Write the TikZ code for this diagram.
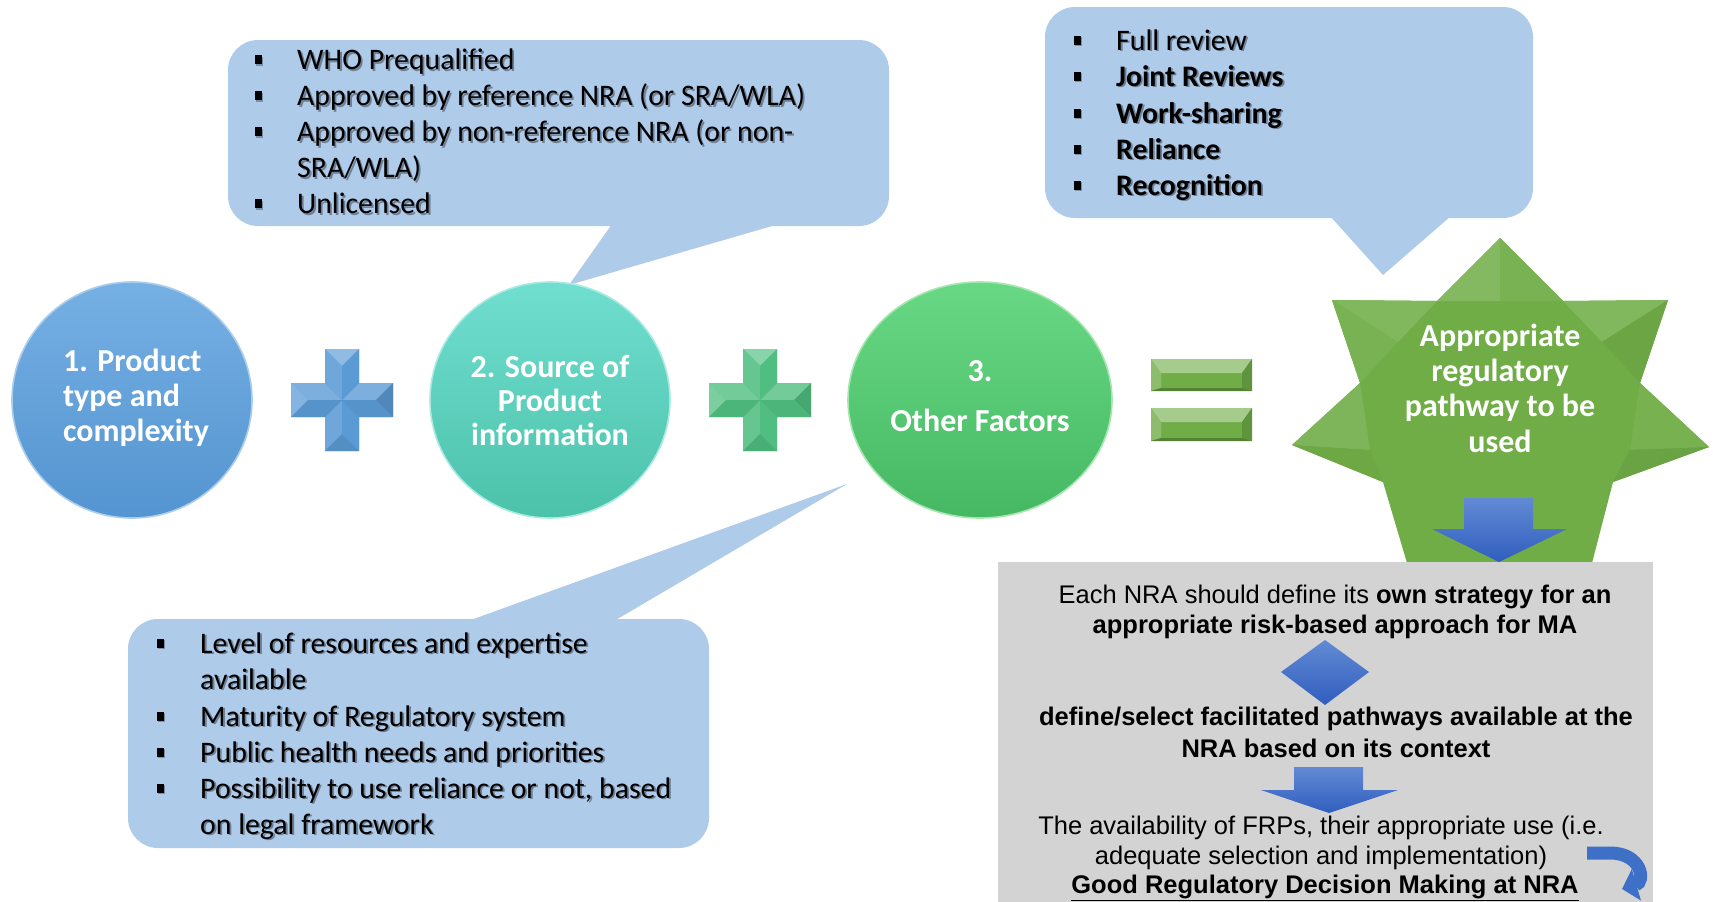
\documentclass[tikz,border=0pt]{standalone}
\usepackage{fontspec}
\setmainfont{Carlito}
\newfontfamily\arialfont{Liberation Sans}
\usetikzlibrary{shapes.geometric,shadows,arrows.meta}

\definecolor{bubblecol}{RGB}{174,203,233}
\definecolor{shadowcol}{RGB}{112,128,148}
\definecolor{cAtop}{RGB}{118,176,228}
\definecolor{cAbot}{RGB}{84,148,208}
\definecolor{cArim}{RGB}{170,205,235}
\definecolor{cBtop}{RGB}{112,222,208}
\definecolor{cBbot}{RGB}{76,194,170}
\definecolor{cBrim}{RGB}{170,235,225}
\definecolor{cCtop}{RGB}{104,216,132}
\definecolor{cCbot}{RGB}{70,184,100}
\definecolor{cCrim}{RGB}{165,230,175}
\definecolor{plusblue}{RGB}{91,155,213}
\definecolor{plusgreen}{RGB}{80,190,128}
\definecolor{stargreen}{RGB}{112,173,71}
\definecolor{graybox}{RGB}{211,211,211}
\definecolor{arrowtop}{RGB}{98,138,212}
\definecolor{arrowbot}{RGB}{48,94,190}
\definecolor{turnblue}{RGB}{62,112,200}

% text with a soft offset shadow
\newcommand\shd[1]{\leavevmode\rlap{\hspace{1.8pt}\raisebox{-1.8pt}{\textcolor{shadowcol}{#1}}}#1}

% bevelled plus sign: #1 centre, #2 base colour
\newcommand\bevelplus[2]{%
\begin{scope}[shift={#1}]
  \fill[#2] (-17,-51) -- (17,-51) -- (17,-17) -- (51,-17) -- (51,17) -- (17,17)
     -- (17,51) -- (-17,51) -- (-17,17) -- (-51,17) -- (-51,-17) -- (-17,-17) -- cycle;
  % facets facing up
  \fill[#2!68!white] (-17,-51) -- (17,-51) -- (0,-34) -- cycle;
  \fill[#2!80!white] (17,-17) -- (51,-17) -- (34,0) -- (0,0) -- cycle;
  \fill[#2!80!white] (-17,-17) -- (-51,-17) -- (-34,0) -- (0,0) -- cycle;
  % facets facing left
  \fill[#2!88!white] (-17,-51) -- (0,-34) -- (0,0) -- (-17,-17) -- cycle;
  \fill[#2!88!white] (-17,51) -- (0,34) -- (0,0) -- (-17,17) -- cycle;
  \fill[#2!75!white] (-51,-17) -- (-51,17) -- (-34,0) -- cycle;
  % facets facing right
  \fill[#2] (17,-51) -- (0,-34) -- (0,0) -- (17,-17) -- cycle;
  \fill[#2] (17,51) -- (0,34) -- (0,0) -- (17,17) -- cycle;
  \fill[#2!88!black] (51,-17) -- (51,17) -- (34,0) -- cycle;
  % facets facing down
  \fill[#2!92!black] (-17,51) -- (17,51) -- (0,34) -- cycle;
  \fill[#2!95!black] (17,17) -- (51,17) -- (34,0) -- (0,0) -- cycle;
  \fill[#2!95!black] (-17,17) -- (-51,17) -- (-34,0) -- (0,0) -- cycle;
\end{scope}}

% bevelled bar of the equals sign: corners (#1,#2) and (#3,#4)
\newcommand\bevelbar[4]{%
  \fill[stargreen] (#1,#2) rectangle (#3,#4);
  \fill[stargreen!62!white] (#1,#2) -- (#3,#2) -- (#3-10,#2+14) -- (#1+10,#2+14) -- cycle;
  \fill[stargreen!80!white] (#1,#2) -- (#1+10,#2+14) -- (#1+10,#4-3) -- (#1,#4) -- cycle;
  \fill[stargreen!85!black] (#3,#2) -- (#3-10,#2+14) -- (#3-10,#4-3) -- (#3,#4) -- cycle;
  \fill[stargreen!75!black] (#1,#4) -- (#1+10,#4-3) -- (#3-10,#4-3) -- (#3,#4) -- cycle;
}

\begin{document}
\begin{tikzpicture}[x=1pt,y=-1pt,
  bul/.style={fill=black, minimum width=7, minimum height=9, inner sep=0,
    drop shadow={shadow xshift=1.6pt, shadow yshift=-1.6pt, fill=shadowcol, opacity=0.8}},
  item/.style={anchor=base west, inner sep=0, font=\fontsize{29.8}{36}\selectfont},
  disc/.style={ellipse, inner sep=0, text=white, line width=1.6,
    font=\fontsize{32}{35}\selectfont\bfseries},
  gline/.style={anchor=base, inner sep=0, font=\arialfont\fontsize{25.5}{31}\selectfont},
  arrowfill/.style={top color=arrowtop, bottom color=arrowbot, draw=none}
]
\useasboundingbox (0,0) rectangle (1713,902);

% ---------- speech bubbles ----------
\fill[bubblecol, rounded corners=30] (228,40) rectangle (889,226);
\fill[bubblecol] (612,224) -- (569,285) -- (779,224) -- cycle;

\fill[bubblecol, rounded corners=30] (1045,7) rectangle (1533,218);
\fill[bubblecol] (1330,216) -- (1383,275) -- (1451,216) -- cycle;

\fill[bubblecol, rounded corners=30] (128,619) rectangle (709,848);
\fill[bubblecol] (468,621) -- (847,484) -- (614,621) -- cycle;

% ---------- source of product information ----------
\node[bul] (ba1) at (258,59.5) {};
\node[bul] (ba2) at (258,95.5) {};
\node[bul] (ba3) at (258,131.5) {};
\node[bul] (ba4) at (258,203.5) {};
\node[item] (ta1) at (297,69.5) {\shd{WHO Prequalified}};
\node[item] (ta2) at (297,105.5) {\shd{Approved by reference NRA (or SRA/WLA)}};
\node[item] (ta3) at (297,141.5) {\shd{Approved by non-reference NRA (or non-}};
\node[item] (ta4) at (297,177.5) {\shd{SRA/WLA)}};
\node[item] (ta5) at (297,213.5) {\shd{Unlicensed}};

% ---------- pathway options ----------
\node[bul] (bb1) at (1077,40) {};
\node[bul] (bb2) at (1077,76) {};
\node[bul] (bb3) at (1077,113) {};
\node[bul] (bb4) at (1077,149) {};
\node[bul] (bb5) at (1077,185) {};
\node[item] (tb1) at (1116,50) {\shd{Full review}};
\node[item] (tb2) at (1116,86) {\shd{\textbf{Joint Reviews}}};
\node[item] (tb3) at (1116,123) {\shd{\textbf{Work-sharing}}};
\node[item] (tb4) at (1116,159) {\shd{\textbf{Reliance}}};
\node[item] (tb5) at (1116,195) {\shd{\textbf{Recognition}}};

% ---------- other factors ----------
\node[bul] (bc1) at (160,643) {};
\node[bul] (bc2) at (160,716) {};
\node[bul] (bc3) at (160,752) {};
\node[bul] (bc4) at (160,788) {};
\node[item] (tc1) at (200,653) {\shd{Level of resources and expertise}};
\node[item] (tc2) at (200,689) {\shd{available}};
\node[item] (tc3) at (200,726) {\shd{Maturity of Regulatory system}};
\node[item] (tc4) at (200,762) {\shd{Public health needs and priorities}};
\node[item] (tc5) at (200,798) {\shd{Possibility to use reliance or not, based}};
\node[item] (tc6) at (200,834) {\shd{on legal framework}};

% ---------- the three factors ----------
\node[disc, top color=cAtop, bottom color=cAbot, draw=cArim,
      minimum width=240, minimum height=236] (f1) at (132,400) {};
\node[inner sep=0, text=white, align=left, font=\fontsize{32}{35}\selectfont\bfseries]
  (f1t) at (136,398) {1. Product\\type and\\complexity};
\bevelplus{(342,400)}{plusblue}
\node[disc, top color=cBtop, bottom color=cBbot, draw=cBrim,
      minimum width=240, minimum height=236, align=center,
      font=\fontsize{32}{34}\selectfont\bfseries] (f2) at (550,400)
      {2. Source of\\Product\\information};
\bevelplus{(760,400)}{plusgreen}
\node[disc, top color=cCtop, bottom color=cCbot, draw=cCrim,
      minimum width=264, minimum height=236] (f3) at (980,400) {};
\node[inner sep=0, text=white, align=center, font=\fontsize{32}{35}\selectfont\bfseries]
  (f3t) at (980,396) {3.\\[15pt]Other Factors};

% ---------- equals sign ----------
\bevelbar{1151}{359}{1252}{391}
\bevelbar{1151}{408}{1252}{441}

% ---------- result star (lower points run under the decision box) ----------
\fill[stargreen] (1500,238) -- (1563,301) -- (1668,300) -- (1640,383) -- (1709,447)
  -- (1613,482) -- (1592,563) -- (1540,580) -- (1500,600) -- (1460,580) -- (1407,563)
  -- (1383,482) -- (1292,445) -- (1360,383) -- (1332,300) -- (1437,301) -- cycle;
\fill[stargreen!86!white] (1500,238) -- (1437,301) -- (1500,301) -- cycle;
\fill[stargreen!94!white] (1500,238) -- (1563,301) -- (1500,301) -- cycle;
\fill[stargreen!88!white] (1668,300) -- (1563,301) -- (1602,342) -- cycle;
\fill[stargreen!96!black] (1668,300) -- (1640,383) -- (1602,342) -- cycle;
\fill[stargreen!95!white] (1709,447) -- (1640,383) -- (1630,450) -- cycle;
\fill[stargreen!94!black] (1709,447) -- (1613,482) -- (1630,450) -- cycle;
\fill[stargreen!88!white] (1332,300) -- (1437,301) -- (1398,342) -- cycle;
\fill[stargreen!94!white] (1332,300) -- (1360,383) -- (1398,342) -- cycle;
\fill[stargreen!90!white] (1292,445) -- (1360,383) -- (1370,450) -- cycle;
\fill[stargreen!97!black] (1292,445) -- (1383,482) -- (1370,450) -- cycle;
\node[inner sep=0, text=white, align=center, font=\fontsize{32}{35.3}\selectfont\bfseries]
  (res) at (1500,388) {Appropriate\\regulatory\\pathway to be\\used};

% ---------- decision box ----------
\fill[graybox] (998,562) rectangle (1653,902);
\shade[arrowfill] (1464,498) -- (1533,498) -- (1533,529) -- (1567,529) -- (1499,562)
  -- (1432,529) -- (1464,529) -- cycle;

\node[gline] (g1) at (1335,603) {Each NRA should define its \textbf{own strategy for an}};
\node[gline] (g2) at (1335,633) {\textbf{appropriate risk-based approach for MA}};
\shade[arrowfill] (1325,640) -- (1369,672) -- (1325,705) -- (1281,672) -- cycle;
\node[gline] (g3) at (1336,725) {\textbf{define/select facilitated pathways available at the}};
\node[gline] (g4) at (1336,757) {\textbf{NRA based on its context}};
\shade[arrowfill] (1294,767) -- (1363,767) -- (1363,790) -- (1398,790) -- (1329,813)
  -- (1261,790) -- (1294,790) -- cycle;
\node[gline] (g5) at (1321,834) {The availability of FRPs, their appropriate use (i.e.};
\node[gline] (g6) at (1321,864) {adequate selection and implementation)};
\node[gline] (g7) at (1325,893) {\underline{\textbf{Good Regulatory Decision Making at NRA}}};

% U-turn arrow beside the last line
\draw[line width=13, turnblue, -{Triangle[width=32pt,length=15pt]}]
  (1587,853) -- (1610,853) .. controls (1642,853) and (1646,882) .. (1622,889);
\end{tikzpicture}
\end{document}
